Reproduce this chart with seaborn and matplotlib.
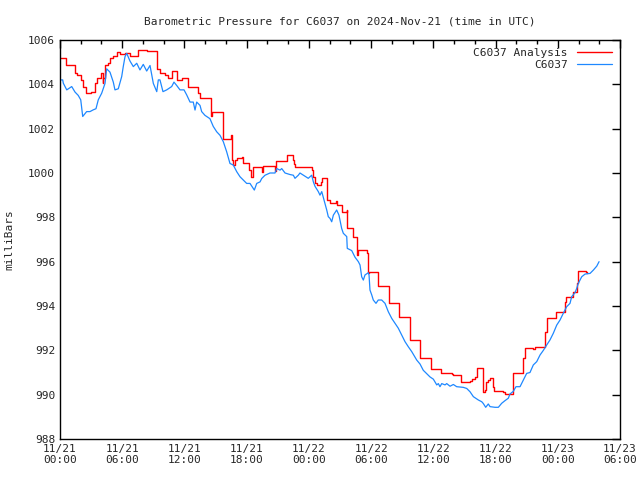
import pandas as pd
import numpy as np
import matplotlib
matplotlib.use("Agg")
import matplotlib.pyplot as plt
import matplotlib.dates as mdates
import seaborn as sns

# ── data: hours since 2024-11-21 00:00 UTC, pressure in mb ──
obs_hours = [0, 0.26, 0.32, 0.65, 1.13, 1.45, 1.76, 2.0, 2.19, 2.57, 2.89, 3.21, 3.47, 3.69,
             4.02, 4.34, 4.5, 4.82, 5.14, 5.3, 5.62, 5.95, 6.1, 6.27, 6.43, 6.75, 7.07, 7.4,
             7.71, 8.03, 8.36, 8.68, 9.0, 9.33, 9.48, 9.64, 9.93, 10.29, 10.77, 10.99, 11.25,
             11.57, 11.96, 12.22, 12.54, 12.85, 13.02, 13.18, 13.5, 13.66, 13.98, 14.46, 14.78,
             15.11, 15.43, 15.75, 16.07, 16.39, 16.71, 17.04, 17.36, 17.68, 18.0, 18.32, 18.74,
             18.97, 19.29, 19.45, 19.77, 20.25, 20.73, 20.9, 21.22, 21.38, 21.7, 22.18, 22.5,
             22.66, 22.98, 23.14, 23.63, 23.94, 24.27, 24.43, 24.59, 24.91, 25.07, 25.24, 25.55,
             25.72, 25.87, 26.04, 26.2, 26.36, 26.68, 26.9, 27.16, 27.32, 27.65, 27.7, 28.13,
             28.45, 28.77, 28.93, 29.09, 29.25, 29.41, 29.73, 29.8, 29.89, 30.06, 30.21, 30.47,
             30.69, 31.02, 31.34, 31.66, 31.99, 32.3, 32.62, 32.95, 33.27, 33.59, 33.92, 34.4,
             34.72, 35.03, 35.36, 35.68, 36.0, 36.33, 36.48, 36.64, 36.81, 37.13, 37.29, 37.61,
             37.93, 38.25, 38.89, 39.22, 39.54, 39.86, 40.34, 40.67, 40.82, 41.05, 41.3, 41.47,
             41.95, 42.27, 42.59, 42.91, 43.23, 43.39, 43.71, 43.97, 44.36, 44.68, 45.0, 45.32,
             45.64, 45.97, 46.29, 46.61, 46.93, 47.25, 47.57, 47.9, 48.22, 48.53, 48.86, 49.18,
             49.34, 49.66, 49.83, 49.98, 50.31, 50.63, 51.11, 51.43, 51.76, 51.98]
obs_mb = [1004.2, 1004.2, 1004.05, 1003.75, 1003.9, 1003.65, 1003.5, 1003.3, 1002.55, 1002.77,
          1002.77, 1002.85, 1002.9, 1003.3, 1003.6, 1004.04, 1004.7, 1004.55, 1004.1, 1003.75,
          1003.8, 1004.35, 1004.8, 1005.25, 1005.4, 1005.05, 1004.8, 1004.95, 1004.65, 1004.9,
          1004.6, 1004.85, 1004.04, 1003.67, 1004.2, 1004.2, 1003.67, 1003.75, 1003.9, 1004.1,
          1003.95, 1003.75, 1003.75, 1003.52, 1003.2, 1003.2, 1002.84, 1003.2, 1003.05, 1002.77,
          1002.6, 1002.45, 1002.1, 1001.86, 1001.7, 1001.41, 1000.96, 1000.43, 1000.36, 1000.06,
          999.83, 999.68, 999.53, 999.53, 999.23, 999.53, 999.6, 999.75, 999.9, 1000.0, 1000.0,
          1000.2, 1000.13, 1000.2, 1000.0, 999.93, 999.9, 999.76, 999.9, 1000.0, 999.85, 999.76,
          999.9, 999.6, 999.4, 999.16, 999.0, 999.16, 998.63, 998.33, 998.03, 997.95, 997.8,
          998.1, 998.33, 998.1, 997.5, 997.28, 997.13, 996.6, 996.5, 996.2, 996.0, 995.85,
          995.32, 995.17, 995.4, 995.5, 995.4, 994.72, 994.5, 994.27, 994.12, 994.27, 994.27,
          994.12, 993.74, 993.44, 993.22, 993.0, 992.69, 992.39, 992.16, 991.94, 991.56, 991.38,
          991.1, 990.95, 990.8, 990.7, 990.44, 990.5, 990.36, 990.5, 990.44, 990.5, 990.38,
          990.46, 990.36, 990.33, 990.28, 990.13, 989.91, 989.76, 989.68, 989.6, 989.43, 989.58,
          989.46, 989.43, 989.43, 989.61, 989.73, 989.84, 990.03, 990.15, 990.36, 990.36, 990.66,
          990.96, 991.0, 991.34, 991.49, 991.79, 992.0, 992.24, 992.47, 992.77, 993.14, 993.37,
          993.67, 993.97, 994.12, 994.42, 994.6, 994.8, 995.02, 995.32, 995.44, 995.47, 995.62,
          995.8, 996.0]

ana_hours = [0, 0.58, 1.45, 1.64, 2.0, 2.25, 2.51, 2.96, 3.38, 3.54, 3.95, 4.12, 4.18, 4.34,
             4.66, 4.82, 5.14, 5.47, 5.79, 6.27, 6.75, 7.55, 8.39, 9.33, 9.64, 10.13, 10.44,
             10.77, 11.25, 11.74, 12.37, 13.34, 13.5, 14.53, 14.63, 15.69, 16.07, 16.46, 16.56,
             16.71, 16.88, 17.04, 17.52, 17.68, 18.25, 18.42, 18.64, 19.29, 19.45, 19.6, 20.73,
             20.83, 21.86, 22.5, 22.59, 22.66, 24.27, 24.43, 24.59, 24.75, 25.17, 25.24, 25.72,
             26.04, 26.61, 26.74, 27.16, 27.65, 27.7, 28.28, 28.61, 28.67, 28.77, 29.58, 29.73,
             29.83, 30.69, 31.76, 32.72, 33.75, 34.72, 35.75, 36.71, 37.13, 37.45, 37.77, 37.93,
             38.7, 39.54, 39.7, 40.02, 40.18, 40.76, 40.82, 40.98, 41.08, 41.3, 41.47, 41.78,
             41.85, 42.75, 42.91, 43.65, 44.68, 44.81, 45.64, 45.78, 46.77, 46.93, 47.83, 48.7,
             48.79, 49.44, 49.83, 49.92, 50.72, 50.85]
ana_mb = [1005.2, 1004.87, 1004.5, 1004.4, 1004.2, 1003.9, 1003.6, 1003.65, 1004.06, 1004.3,
          1004.5, 1004.06, 1004.3, 1004.87, 1004.95, 1005.2, 1005.3, 1005.47, 1005.35, 1005.4,
          1005.3, 1005.55, 1005.5, 1004.7, 1004.5, 1004.4, 1004.27, 1004.6, 1004.2, 1004.3,
          1003.9, 1003.6, 1003.37, 1002.55, 1002.77, 1001.52, 1001.55, 1001.7, 1000.58, 1000.36,
          1000.58, 1000.66, 1000.73, 1000.46, 1000.13, 999.83, 1000.25, 1000.25, 1000.06, 1000.3,
          1000.1, 1000.56, 1000.8, 1000.58, 1000.4, 1000.28, 1000.13, 999.83, 999.53, 999.46,
          999.6, 999.76, 998.78, 998.63, 998.73, 998.55, 998.25, 998.33, 997.5, 997.13, 996.53,
          996.3, 996.53, 996.38, 995.47, 995.55, 994.9, 994.15, 993.49, 992.47, 991.67, 991.14,
          990.96, 991.0, 990.96, 990.92, 990.89, 990.58, 990.6, 990.7, 990.81, 991.19, 990.9,
          990.13, 990.2, 990.58, 990.65, 990.74, 990.36, 990.16, 990.13, 990.03, 990.99, 991.64,
          992.09, 992.05, 992.16, 992.84, 993.44, 993.74, 994.19, 994.42, 994.64, 995.02,
          995.58, 995.55, 995.47]

start = pd.Timestamp("2024-11-21 00:00")
obs = pd.DataFrame({"time": start + pd.to_timedelta(obs_hours, unit="h"), "mb": obs_mb})
ana = pd.DataFrame({"time": start + pd.to_timedelta(ana_hours, unit="h"), "mb": ana_mb})

sns.set_style("white")
plt.rcParams["font.family"] = ["DejaVu Sans Mono"]
plt.rcParams["font.size"] = 8

fig = plt.figure(figsize=(6.4, 4.8), dpi=100)
ax = fig.add_axes([60 / 640, 41 / 480, 560 / 640, 399 / 480])

sns.lineplot(data=ana, x="time", y="mb", ax=ax, color="#ff0000", lw=1.0,
             drawstyle="steps-post", estimator=None, sort=False, label="C6037 Analysis")
sns.lineplot(data=obs, x="time", y="mb", ax=ax, color="#1e88ff", lw=0.9,
             estimator=None, sort=False, label="C6037")

ax.set_xlim(start, start + pd.Timedelta(hours=54))
ax.set_ylim(988, 1006)
ax.set_yticks(np.arange(988, 1007, 2))
ax.xaxis.set_major_locator(mdates.HourLocator(byhour=[0, 6, 12, 18]))
ax.xaxis.set_minor_locator(mdates.HourLocator(byhour=range(0, 24, 2)))
ax.xaxis.set_major_formatter(mdates.DateFormatter("%m/%d\n%H:%M"))
ax.tick_params(which="both", direction="in", top=True, right=True, color="black", labelsize=8)
ax.tick_params(which="major", length=6, width=1)
ax.tick_params(which="minor", length=3, width=1)
for s in ax.spines.values():
    s.set_color("black")
    s.set_linewidth(1)

ax.set_xlabel("")
ax.set_ylabel("milliBars", fontsize=8, labelpad=10)
ax.set_title("Barometric Pressure for C6037 on 2024-Nov-21 (time in UTC)", fontsize=8, pad=11)
ax.legend(loc="upper right", frameon=False, markerfirst=False, fontsize=8,
          handlelength=3.2, borderaxespad=0.3, labelspacing=0.2)

fig.savefig("out.png", dpi=100)
